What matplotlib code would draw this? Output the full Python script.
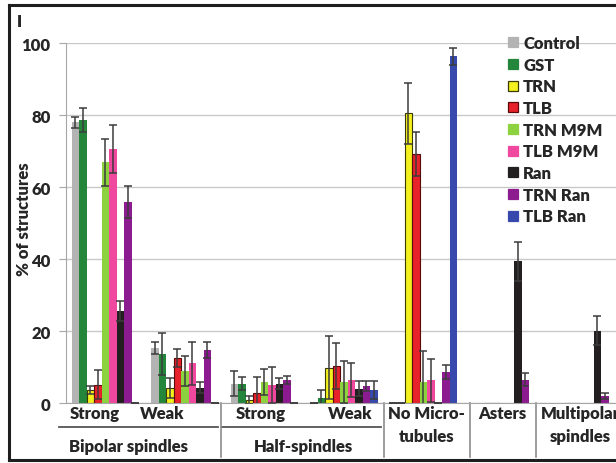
import matplotlib
matplotlib.use('Agg')
import matplotlib.pyplot as plt
import matplotlib.transforms as mtransforms
from matplotlib.lines import Line2D
import numpy as np

plt.rcParams['font.family'] = ['Lato', 'DejaVu Sans']
plt.rcParams['font.weight'] = 'heavy'
plt.rcParams['axes.labelweight'] = 'heavy'

# data
series = ['Control', 'GST', 'TRN', 'TLB', 'TRN M9M', 'TLB M9M', 'Ran', 'TRN Ran', 'TLB Ran']
colors = ['#b3b3b3', '#24863b', '#f3f01e', '#e8222b', '#8cd23f', '#f0479f', '#231f20', '#8b1b8e', '#3849ae']
edges = [None, None, '#3a3a00', '#5a0a0a', None, None, None, None, None]

categories = ['Strong', 'Weak', 'Strong', 'Weak', 'No Micro-\ntubules', 'Asters', 'Multipolar\nspindles']

# one row per series, one column per category
values = [
    [78.1, 15.3, 5.4, 0.0, 0.0, 0.0, 0.0],     # Control
    [78.7, 13.7, 5.4, 1.6, 0.0, 0.0, 0.0],     # GST
    [3.8, 4.3, 1.0, 9.9, 80.6, 0.0, 0.0],      # TRN
    [5.2, 12.6, 2.9, 10.3, 69.2, 0.0, 0.0],    # TLB
    [66.9, 9.0, 5.9, 5.9, 5.8, 0.0, 0.0],      # TRN M9M
    [70.6, 11.1, 5.2, 6.4, 6.4, 0.0, 0.0],     # TLB M9M
    [25.7, 4.3, 5.4, 4.0, 0.0, 39.4, 20.2],    # Ran
    [56.0, 14.8, 6.5, 4.8, 8.7, 6.6, 2.1],     # TRN Ran
    [0.0, 0.0, 0.0, 3.7, 96.4, 0.0, 0.0],      # TLB Ran
]
nan = np.nan
errors = [
    [1.5, 1.6, 3.5, 0.0, 0.0, nan, nan],
    [3.2, 5.7, 1.8, 2.1, 0.0, nan, nan],
    [1.1, 2.8, 1.1, 8.7, 8.5, nan, nan],
    [4.1, 2.4, 4.5, 6.4, 6.1, nan, nan],
    [6.5, 4.2, 3.6, 5.9, 8.6, nan, nan],
    [6.7, 6.0, 5.0, 4.7, 5.9, nan, nan],
    [2.7, 1.5, 1.5, 2.1, 0.0, 5.3, 4.1],
    [4.4, 2.3, 1.2, 1.3, 2.0, 1.8, 0.8],
    [0.0, 0.0, 0.0, 2.6, 2.3, nan, nan],
]

# label placement (x in category units)
label_x = [-0.136, 0.718, 1.957, 3.08, 4.04, 4.99, 5.97]
label_rows = [-0.0417, -0.1056]
groups = ['Bipolar spindles', 'Half-spindles']
group_x = [0.296, 2.49]
group_span = [(-0.58, 1.42), (1.47, 3.47)]
separators = [1.45, 3.51, 4.58, 5.42]

txt = '#262626'
fs = 12
fig = plt.figure(figsize=(6.16, 4.64), dpi=100)
ax = fig.add_axes([65.7 / 616, 59.7 / 464, 556.5 / 616, 360 / 464])

x = np.arange(len(categories))
n = len(series)
w = 0.85 / n
for i in range(n):
    pos = x - 0.425 + w * (i + 0.5)
    ax.bar(pos, values[i], width=w, color=colors[i],
           edgecolor=edges[i] if edges[i] else 'none', linewidth=0.8, zorder=2)
    err = np.array(errors[i])
    ok = ~np.isnan(err)
    ax.errorbar(pos[ok], np.array(values[i])[ok], yerr=err[ok], fmt='none', ecolor='#3c3c3c',
                elinewidth=1.1, capsize=2.8, capthick=1.1, zorder=3)

ax.set_xlim(-0.5, 6.5)
ax.set_ylim(0, 100)
ax.set_yticks([0, 20, 40, 60, 80, 100])
ax.yaxis.grid(True, color='#c8c8c8', linewidth=1)
ax.set_axisbelow(True)
for s in ['top', 'right']:
    ax.spines[s].set_visible(False)
ax.spines['left'].set_color('#a6a6a6')
ax.spines['bottom'].set_color('#a6a6a6')
ax.tick_params(axis='y', length=5, color='#a6a6a6', pad=6, labelsize=fs, labelcolor=txt)
ax.tick_params(axis='x', length=0, labelbottom=False)
ax.set_ylabel('% of structures', fontsize=fs, color=txt)
ax.yaxis.set_label_coords(-0.0606, 0.515)

trans = mtransforms.blended_transform_factory(ax.transData, ax.transAxes)
for lab, lx in zip(categories, label_x):
    for line, ly in zip(lab.split('\n'), label_rows):
        ax.text(lx, ly, line, transform=trans, ha='center', va='baseline', fontsize=fs,
                color=txt, clip_on=False)
for lab, gx, (a, b) in zip(groups, group_x, group_span):
    ax.text(gx, -0.1317, lab, transform=trans, ha='center', va='baseline', fontsize=fs,
            color=txt, clip_on=False)
    ax.plot([a, b], [-0.0667, -0.0667], transform=trans, color='#555555', lw=1.3, clip_on=False)
for sx in separators:
    ax.plot([sx, sx], [0, -0.15], transform=trans, color='#8c8c8c', lw=1.2, clip_on=False)

handles = [Line2D([], [], marker='s', linestyle='none', markersize=7.2, markerfacecolor=c,
                  markeredgecolor=(e if e else c), markeredgewidth=0.9)
           for c, e in zip(colors, edges)]
fig.legend(handles, series, loc='upper left', bbox_to_anchor=(507 / 616, 1 - 36 / 464),
           frameon=False, fontsize=fs, handlelength=0.7, handletextpad=0.26,
           labelspacing=0.34, borderpad=0, borderaxespad=0, labelcolor=txt)

fig.text(19 / 616, 1 - 22 / 464, 'I', fontsize=fs, color=txt, ha='center', va='center')

# outer frame (right side cut off in the original)
fc = '#1e1e1e'
fig.add_artist(Line2D([9 / 616, 9 / 616], [1 - 6 / 464, 1 - 460.5 / 464], color=fc, lw=2.2))
fig.add_artist(Line2D([9 / 616, 1], [1 - 6 / 464, 1 - 6 / 464], color=fc, lw=2.2))
fig.add_artist(Line2D([9 / 616, 1], [1 - 460.5 / 464, 1 - 460.5 / 464], color=fc, lw=2.2))

fig.savefig('out.png', dpi=100)
